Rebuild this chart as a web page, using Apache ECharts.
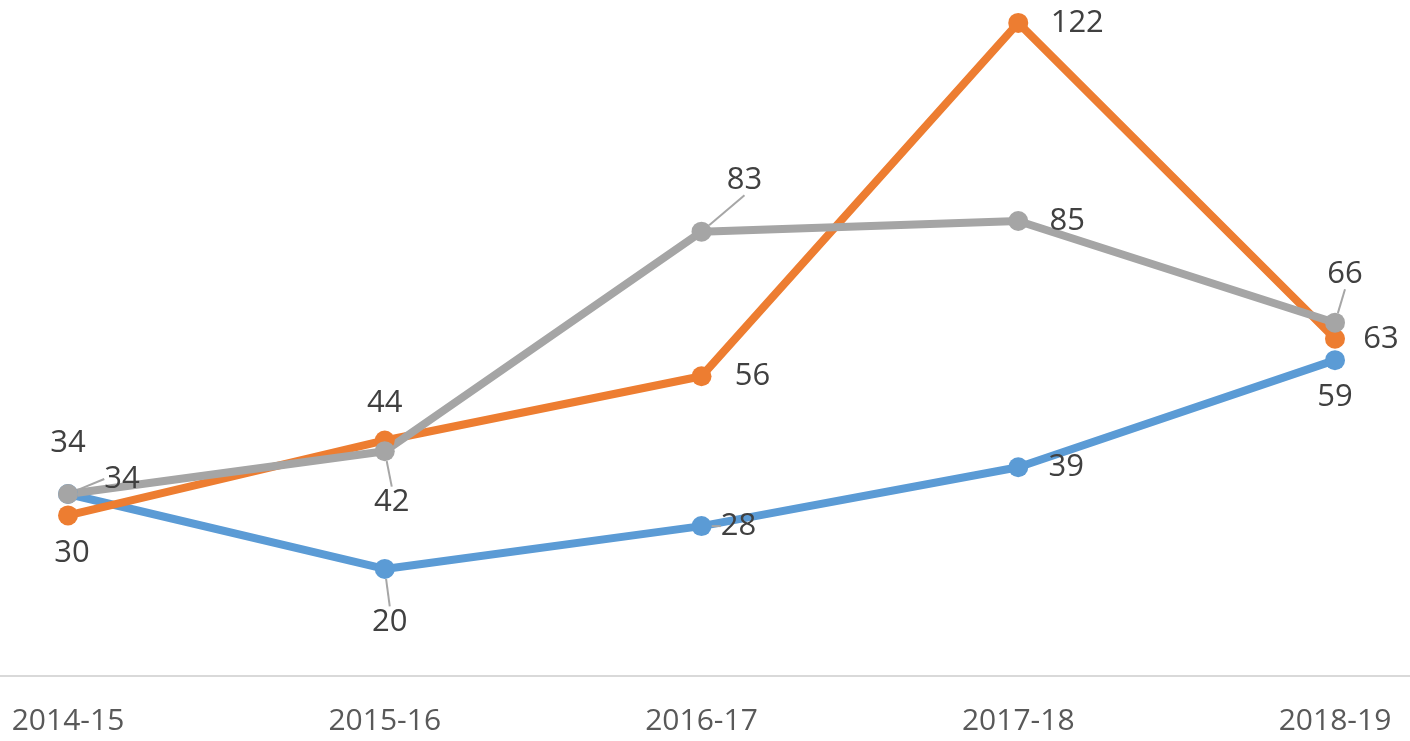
<!DOCTYPE html>
<html>
<head>
<meta charset="utf-8">
<script src="https://cdn.jsdelivr.net/npm/echarts@6/dist/echarts.min.js"></script>
<style>
  html, body { margin: 0; padding: 0; background: #fff; }
  #chart { width: 1410px; height: 741px; }
</style>
</head>
<body>
<div id="chart"></div>
<script>
const categories = ['2014-15', '2015-16', '2016-17', '2017-18', '2018-19']
const blueValues = [34, 20, 28, 39, 59]
const orangeValues = [30, 44, 56, 122, 63]
const grayValues = [34, 42, 83, 85, 66]

// label offsets from the point centre, per series: [dx, dy, leader]
const labelMoves = [
  [[0, -51, 0], [5, 53, 1], [37, 0, 1], [48, 0, 0], [0, 37, 0]],
  [[4, 38, 0], [0, -37, 0], [51, 0, 0], [59, 0, 0], [46, 0, 0]],
  [[54, -15, 1], [7, 51, 1], [43, -52, 1], [49, 0, 0], [10, -49, 1]]
]

const chart = echarts.init(document.getElementById('chart'))

function makeSeries(name, values, color, idx) {
  return {
    name, type: 'line', data: values.map((v, i) => ({
      value: v,
      labelLine: { show: !!labelMoves[idx][i][2] }
    })),
    symbol: 'circle', symbolSize: 20,
    lineStyle: { width: 8, color }, itemStyle: { color },
    label: {
      show: true, position: 'inside',
      fontFamily: 'Open Sans', fontSize: 31, color: '#404040'
    },
    labelLine: { show: false, lineStyle: { color: '#a6a6a6', width: 2 } },
    labelLayout: (p) => ({ dx: labelMoves[idx][p.dataIndex][0], dy: labelMoves[idx][p.dataIndex][1] }),
    emphasis: { disabled: true },
    animation: false
  }
}

chart.setOption({
  grid: { left: -90.375, right: -83.375, top: 1.5, bottom: 65, outerBoundsMode: 'none' },
  xAxis: {
    type: 'category', data: categories, boundaryGap: true,
    axisLine: { lineStyle: { color: '#d9d9d9', width: 2 } },
    axisTick: { show: false },
    axisLabel: { margin: 30, fontFamily: 'Open Sans', fontSize: 30, color: '#595959' }
  },
  yAxis: { type: 'value', min: 0, max: 126, show: false, splitLine: { show: false } },
  series: [
    makeSeries('Blue', blueValues, '#5b9bd5', 0),
    makeSeries('Orange', orangeValues, '#ed7d31', 1),
    makeSeries('Gray', grayValues, '#a5a5a5', 2)
  ]
})
</script>
</body>
</html>
